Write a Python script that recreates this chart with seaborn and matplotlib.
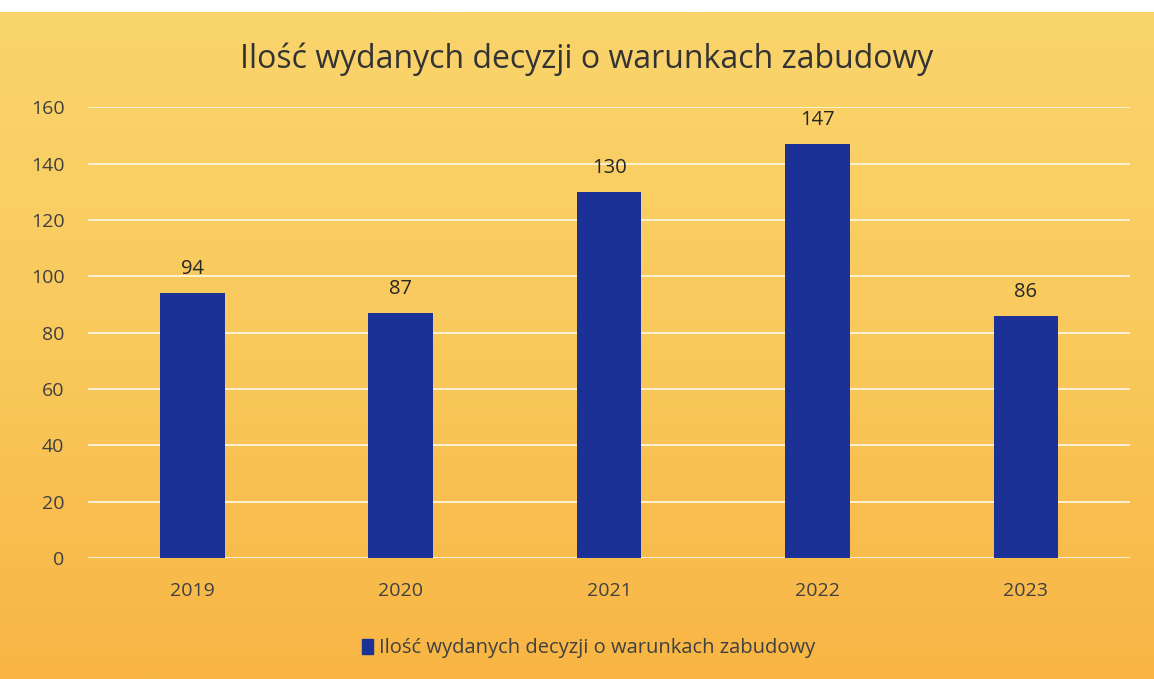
import numpy as np
import matplotlib.pyplot as plt
import seaborn as sns
from matplotlib.colors import LinearSegmentedColormap
from matplotlib.patches import Patch

# Dane
lata = ["2019", "2020", "2021", "2022", "2023"]
decyzje = [94, 87, 130, 147, 86]
seria = "Ilość wydanych decyzji o warunkach zabudowy"
tytul = "Ilość wydanych decyzji o warunkach zabudowy"

sns.set_theme(style="white")
plt.rcParams["font.family"] = ["Open Sans", "DejaVu Sans"]

fig = plt.figure(figsize=(11.54, 6.79), dpi=100)

# Tło: gradient żółty -> pomarańczowy
bg = fig.add_axes([0.0, 0.0, 1.0, 0.982], zorder=-10)
cmap = LinearSegmentedColormap.from_list("bg", ["#f8b544", "#f9c95c", "#fad56c"])
grad = np.linspace(0, 1, 256).reshape(-1, 1)
bg.imshow(grad, aspect="auto", cmap=cmap, extent=[0, 1, 0, 1], origin="lower")
bg.axis("off")

ax = fig.add_axes([0.0763, 0.178, 0.903, 0.664])
ax.patch.set_alpha(0)

sns.barplot(x=lata, y=decyzje, color="#1b3196", saturation=1, width=0.31,
            linewidth=0, ax=ax, zorder=3)

for p, v in zip(ax.patches, decyzje):
    ax.annotate(str(v), (p.get_x() + p.get_width() / 2, v), xytext=(0, 10),
                textcoords="offset points", ha="center", va="bottom",
                fontsize=14.5, color="#262626")

ax.set_ylim(0, 160)
ax.set_yticks(range(0, 161, 20))
ax.yaxis.grid(True, color="#fdf1d6", linewidth=1.4, zorder=0)
ax.set_axisbelow(True)
for s in ax.spines.values():
    s.set_visible(False)
ax.tick_params(axis="both", length=0, labelsize=14, labelcolor="#404040")
ax.tick_params(axis="x", pad=17)
ax.tick_params(axis="y", pad=17)
ax.set_xlabel("")
ax.set_ylabel("")

fig.text(0.508, 0.913, tytul, ha="center", va="center", fontsize=23, color="#333333")

fig.legend(handles=[Patch(color="#1b3196", label=seria)], loc="center",
           bbox_to_anchor=(0.51, 0.045), frameon=False, fontsize=14.5,
           handlelength=0.55, handleheight=0.8, handletextpad=0.3,
           labelcolor="#404040")

fig.savefig("out.png", dpi=100)
